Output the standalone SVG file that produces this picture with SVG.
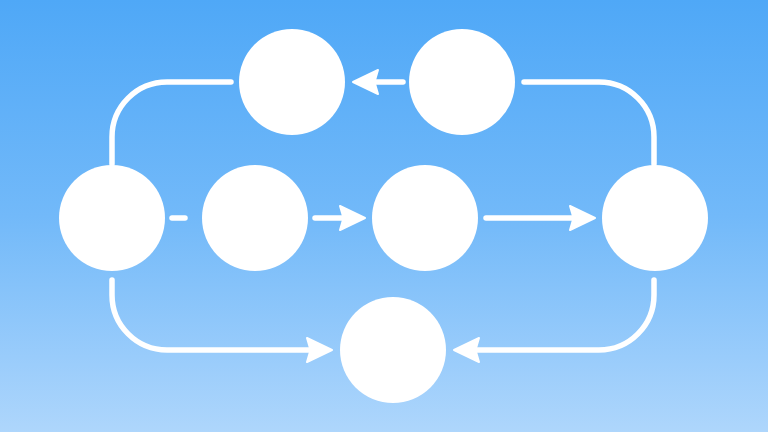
<svg xmlns="http://www.w3.org/2000/svg" width="768" height="432" viewBox="0 0 768 432">
  <defs>
    <linearGradient id="bg" x1="0" y1="0" x2="0" y2="1">
      <stop offset="0" stop-color="#4fa8f7"/>
      <stop offset="0.5" stop-color="#72b9f9"/>
      <stop offset="1" stop-color="#aed6fc"/>
    </linearGradient>
    <marker id="arr" markerUnits="userSpaceOnUse" markerWidth="32" markerHeight="32" viewBox="0 0 32 32" refX="7" refY="16" orient="auto">
      <path d="M3,4 L28,16 L3,28 L6.5,16 Z" fill="#ffffff" stroke="#ffffff" stroke-width="2" stroke-linejoin="round"/>
    </marker>
    <style>
      .node { fill: #ffffff; }
      .edge { fill: none; stroke: #ffffff; stroke-width: 5.5; stroke-linecap: round; }
    </style>
  </defs>
  <rect width="768" height="432" fill="url(#bg)"/>
  <g id="connectors">
    <path class="edge" d="M112,164 V137 A55,55 0 0 1 167,82 H231"/>
    <path class="edge" d="M403,82 H374" marker-end="url(#arr)"/>
    <path class="edge" d="M654,164 V137 A55,55 0 0 0 599,82 H524"/>
    <path class="edge" d="M172,218 H185"/>
    <path class="edge" d="M315,218 H344" marker-end="url(#arr)"/>
    <path class="edge" d="M486,218 H574" marker-end="url(#arr)"/>
    <path class="edge" d="M112,280 V295 A55,55 0 0 0 167,350 H311" marker-end="url(#arr)"/>
    <path class="edge" d="M654,280 V295 A55,55 0 0 1 599,350 H475" marker-end="url(#arr)"/>
  </g>
  <g id="node-top-left"><circle class="node" cx="292" cy="82" r="53"/></g>
  <g id="node-top-right"><circle class="node" cx="462" cy="82" r="53"/></g>
  <g id="node-left"><circle class="node" cx="112" cy="218" r="53"/></g>
  <g id="node-second"><circle class="node" cx="255" cy="218" r="53"/></g>
  <g id="node-middle"><circle class="node" cx="425" cy="218" r="53"/></g>
  <g id="node-right"><circle class="node" cx="655" cy="218" r="53"/></g>
  <g id="node-bottom"><circle class="node" cx="393" cy="350" r="53"/></g>
</svg>
